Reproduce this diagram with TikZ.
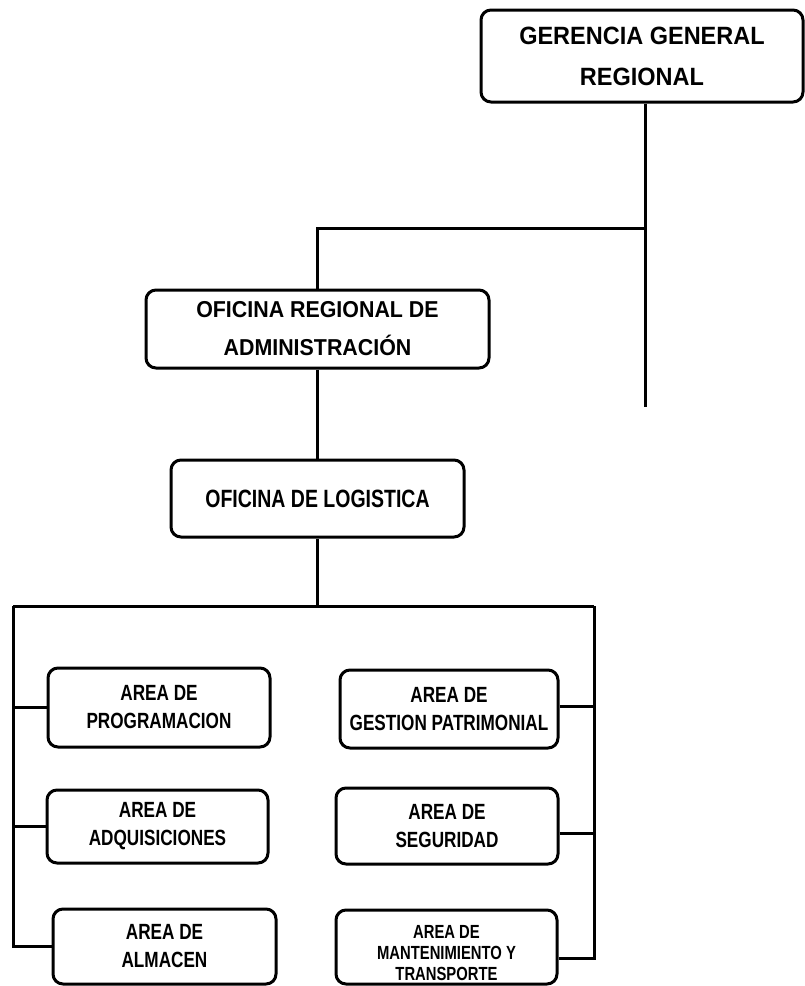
\documentclass[tikz,border=0pt]{standalone}
\usepackage{fontspec}
\setmainfont{Liberation Sans}
\newfontfamily\topf[FakeStretch=0.94]{Liberation Sans}
\newfontfamily\oraf[FakeStretch=0.93]{Liberation Sans}
\newfontfamily\nrw[FakeStretch=0.78]{Liberation Sans}
\tikzset{
  box/.style={draw, line width=3pt, rounded corners=10pt, align=center, inner sep=0pt},
  conn/.style={line width=3pt},
  topfont/.style={font=\topf\bfseries\fontsize{25}{41}\selectfont},
  orafont/.style={font=\oraf\bfseries\fontsize{23}{38}\selectfont},
  logfont/.style={font=\nrw\bfseries\fontsize{25}{30}\selectfont},
  areafont/.style={font=\nrw\bfseries\fontsize{22}{28}\selectfont},
  smallfont/.style={font=\nrw\bfseries\fontsize{19}{21}\selectfont}
}
\begin{document}
\begin{tikzpicture}[x=1pt,y=-1pt]
\useasboundingbox[fill=white] (0,0) rectangle (804,986);
% boxes
\node[box, topfont, minimum width=322, minimum height=92] (ger) at (642,56) {GERENCIA GENERAL\\REGIONAL};
\node[box, orafont, minimum width=343, minimum height=78] (ora) at (317.5,329) {OFICINA REGIONAL DE\\ADMINISTRACIÓN};
\node[box, logfont, minimum width=293, minimum height=77] (log) at (317.5,498.5) {OFICINA DE LOGISTICA};
\node[box, areafont, minimum width=222, minimum height=79] (prog) at (159,707.5) {AREA DE\\PROGRAMACION};
\node[box, areafont, minimum width=221, minimum height=73] (adq) at (157.5,826.5) {AREA DE\\ADQUISICIONES};
\node[box, areafont, minimum width=223, minimum height=75] (alm) at (164.5,946.5) {AREA DE\\ALMACEN};
\node[box, areafont, minimum width=218, minimum height=78] (gest) at (449,709) {AREA DE\\GESTION PATRIMONIAL};
\node[box, areafont, minimum width=222, minimum height=76] (seg) at (447,826) {AREA DE\\SEGURIDAD};
\node[box, minimum width=221, minimum height=74,
      label={[smallfont, align=center, yshift=-6pt]center:AREA DE\\MANTENIMIENTO Y\\TRANSPORTE}] (mant) at (446.5,947) {};
% junction coordinates
\coordinate (j1) at (645,228);
\coordinate (gend) at (645,407);
\coordinate (hl) at (13,606);
\coordinate (hr) at (594,606);
% connectors
\draw[conn] (ger.south -| j1) -- (gend);
\draw[conn] (j1) -- (ora.north |- j1) -- (ora.north);
\draw[conn] (ora.south) -- (log.north);
\draw[conn] (log.south) -- (log.south |- hl);
\draw[conn] (hl) -- (hr);
\draw[conn] (hl) |- (alm.west);
\draw[conn] (prog.west -| hl) -- (prog.west);
\draw[conn] (adq.west -| hl) -- (adq.west);
\draw[conn] (hr) |- (mant.east |- 0,958);
\draw[conn] (gest.east |- 0,706) -- (hr |- 0,706);
\draw[conn] (seg.east |- 0,833) -- (hr |- 0,833);
\end{tikzpicture}
\end{document}
